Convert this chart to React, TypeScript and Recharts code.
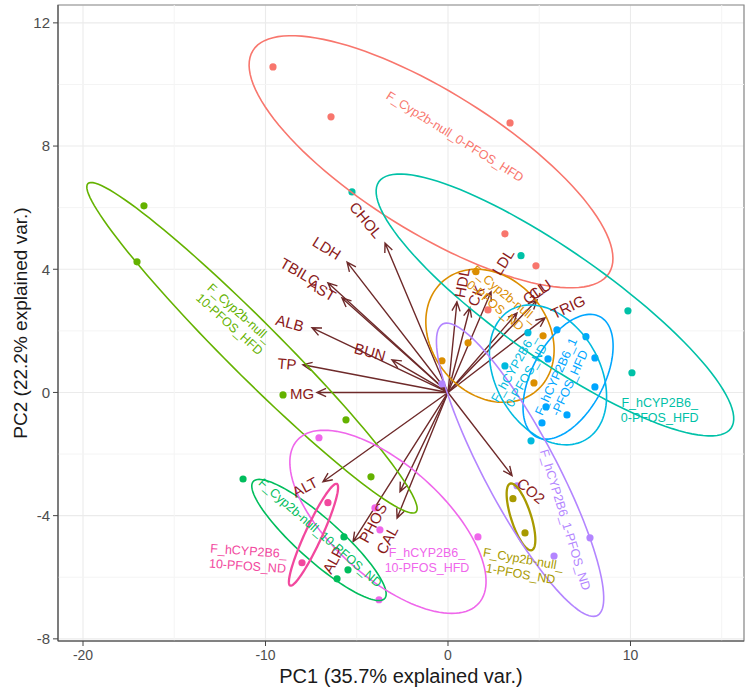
import React from 'react'
import {
  ScatterChart,
  Scatter,
  XAxis,
  YAxis,
  CartesianGrid,
  ReferenceLine,
  ReferenceArea,
} from 'recharts'

// groups (ggplot hue palette, 11 levels)
const groupNames = [
  'F_Cyp2b-null_0-PFOS_HFD',
  'F_Cyp2b-null_0-PFOS_ND',
  'F_Cyp2b-null_1-PFOS_ND',
  'F_Cyp2b-null_10-PFOS_HFD',
  'F_Cyp2b-null_10-PFOS_ND',
  'F_hCYP2B6_0-PFOS_HFD',
  'F_hCYP2B6_0-PFOS_ND',
  'F_hCYP2B6_1-PFOS_HFD',
  'F_hCYP2B6_1-PFOS_ND',
  'F_hCYP2B6_10-PFOS_HFD',
  'F_hCYP2B6_10-PFOS_ND',
]
const groupColors = [
  '#F8766D', '#DB8E00', '#A89A00', '#64B200', '#00BD5C', '#00C1A7',
  '#00BADE', '#00A6FF', '#B385FF', '#EF67EB', '#F2489E',
]

// sample scores
const pc1ByGroup = [
  [-9.59, -6.41, 3.4, 3.12, 4.82, 2.19],
  [1.53, -0.33, 1.1, 5.21, 4.71],
  [3.56, 4.22],
  [-16.66, -17.04, -9.04, -5.59, -4.22],
  [-11.23, -5.7, -6.08, -5.48],
  [-5.26, 4.0, 9.86, 10.08],
  [3.12, 4.55, 4.38],
  [5.97, 7.56, 5.48, 8.05, 8.05, 5.37, 6.52, 5.15],
  [3.78, 7.78, 5.81, -0.33],
  [-7.07, -4.0, -3.73, -3.78, 1.64],
  [-6.58, -8.0],
]
const pc2ByGroup = [
  [10.57, 8.95, 8.75, 5.15, 4.11, 2.68],
  [3.92, 1.03, 1.61, 1.84, 0.31],
  [-3.45, -4.56],
  [6.06, 4.24, -0.08, -0.89, -2.74],
  [-2.81, -4.69, -6.05, -5.76],
  [6.51, 4.44, 2.65, 0.64],
  [0.86, -1.57, 1.94],
  [2.03, 1.81, 1.09, 1.12, 0.18, -0.47, -0.73, -0.99],
  [-3.03, -4.72, -5.31, 0.28],
  [-1.47, -3.75, -4.46, -6.73, -4.69],
  [-3.58, -5.53],
]

// normal-data ellipses: centre and two conjugate semi-axes (PC units)
const ellipseCenter = [
  [-0.93, 7.49], [2.3, 1.84], [4.0, -4.04], [-10.74, 1.45], [-7.07, -4.79], [5.86, 2.84],
  [5.48, 0.57], [6.58, 0.51], [3.95, -2.51], [-3.29, -4.2], [-7.37, -4.62],
]
const ellipseAxisA = [
  [9.76, -3.61], [2.54, -1.79], [0.59, -1.08], [8.99, -5.33], [3.6, -1.9], [9.65, -4.0],
  [2.05, -2.11], [1.75, 1.95], [4.24, -4.73], [4.97, -2.65], [-1.28, -1.65],
]
const ellipseAxisB = [
  [-2.03, -1.93], [-2.43, -1.21], [-0.52, -0.1], [-1.05, -0.62], [-0.77, -0.51], [-1.7, -1.44],
  [-2.47, -0.84], [1.74, -0.55], [-1.74, -0.55], [-2.05, -1.35], [-0.42, 0.115],
]

// group labels
const groupLabelLines = [
  ['F_Cyp2b-null_0-PFOS_HFD'],
  ['F_Cyp2b-null_', '0-PFOS_ND'],
  ['F_Cyp2b-null_', '1-PFOS_ND'],
  ['F_Cyp2b-null_', '10-PFOS_HFD'],
  ['F_Cyp2b-null_10-PFOS_ND'],
  ['F_hCYP2B6_', '0-PFOS_HFD'],
  ['F_hCYP2B6_', '0-PFOS_ND'],
  ['F_hCYP2B6_1', '-PFOS_HFD'],
  ['F_hCYP2B6_1-PFOS_ND'],
  ['F_hCYP2B6_', '10-PFOS_HFD'],
  ['F_hCYP2B6_', '10-PFOS_ND'],
]
const groupLabelPC1 = [0.38, 2.85, 4.05, -11.7, -7.01, 11.6, 3.95, 6.3, 6.41, -1.15, -10.96]
const groupLabelPC2 = [8.3, 3.0, -5.66, 2.39, -4.56, -0.57, 0.67, 0.41, -4.14, -5.47, -5.4]

// variable loadings (arrows)
const variables = [
  'CHOL', 'LDH', 'TBILC', 'AST', 'ALB', 'BUN', 'TP', 'MG', 'ALT', 'ALP',
  'PHOS', 'CAL', 'CO2', 'HDL', 'CK', 'LDL', 'GLU', 'CL', 'TRIG',
]
const loadPC1 = [-3.45, -5.53, -6.58, -5.81, -7.45, -3.07, -7.95, -7.18, -6.85, -5.2, -2.63, -2.79, 3.51, 0.49, 1.2, 2.36, 3.78, 4.88, 5.32]
const loadPC2 = [4.85, 4.23, 3.56, 3.07, 2.1, 1.06, 0.9, 0.0, -2.9, -4.84, -3.22, -4.08, -2.7, 2.94, 2.75, 3.27, 2.58, 3.0, 2.42]
const labelPC1 = [-4.49, -6.63, -8.11, -6.9, -8.66, -4.27, -8.82, -8.0, -7.84, -6.3, -4.11, -3.34, 4.55, 0.77, 1.53, 3.01, 4.88, 4.95, 6.58]
const labelPC2 = [5.6, 4.69, 3.91, 3.33, 2.26, 1.32, 0.93, -0.05, -3.07, -5.44, -4.23, -4.79, -3.19, 3.56, 3.14, 4.24, 3.27, 3.3, 2.78]

// axes
const xDomain = [-21.37, 16.22]
const yDomain = [-8.07, 12.58]
const xTicks = [-20, -10, 0, 10]
const yTicks = [-8, -4, 0, 4, 8, 12]
const xMinor = [-15, -5, 5, 15]
const yMinor = [-6, -2, 2, 6, 10]

// text angles (degrees, svg)
const varAngle = [50, 32, 30, 30, 15, 15, 5, 0, -28, -62, -62, -62, 40, -80, -68, -58, -35, -35, -25]
const groupAngle = [32, 40, 10, 42, 41, 0, -60, -65, 73, 0, 4]

const ARROW = '#6e2a2a'
const VARTEXT = '#8b1a1a'
const FONT = '"Liberation Sans", Arial, Helvetica, sans-serif'

function ellipsePoints(i: number) {
  const [cx, cy] = ellipseCenter[i]
  const [ax, ay] = ellipseAxisA[i]
  const [bx, by] = ellipseAxisB[i]
  const pts = []
  for (let k = 0; k <= 120; k++) {
    const t = (k / 120) * Math.PI * 2
    pts.push({ x: cx + ax * Math.cos(t) + bx * Math.sin(t), y: cy + ay * Math.cos(t) + by * Math.sin(t) })
  }
  return pts
}

const noShape = () => <g />

const dot = (color: string) => (p: any) => (
  <circle cx={p.cx} cy={p.cy} r={3.6} fill={color} />
)

const closedPath = (color: string, width: number) => (lp: any) => {
  const d = 'M' + lp.points.map((p: any) => `${p.x},${p.y}`).join('L') + 'Z'
  return <path d={d} fill="none" stroke={color} strokeWidth={width} />
}

const arrowPath = (lp: any) => {
  const [a, b] = lp.points
  const ang = Math.atan2(b.y - a.y, b.x - a.x)
  const h = 10
  const s = 0.42
  const p1 = `${b.x - h * Math.cos(ang - s)},${b.y - h * Math.sin(ang - s)}`
  const p2 = `${b.x - h * Math.cos(ang + s)},${b.y - h * Math.sin(ang + s)}`
  return (
    <path
      d={`M${a.x},${a.y}L${b.x},${b.y}M${p1}L${b.x},${b.y}L${p2}`}
      fill="none"
      stroke={ARROW}
      strokeWidth={1.4}
    />
  )
}

const varText = (p: any) => (
  <text
    x={p.cx}
    y={p.cy}
    transform={`rotate(${p.payload.angle} ${p.cx} ${p.cy})`}
    textAnchor="middle"
    dominantBaseline="central"
    fontSize={15}
    fontFamily={FONT}
    fill={VARTEXT}
  >
    {p.payload.name}
  </text>
)

const groupText = (color: string) => (p: any) => {
  const lines: string[] = p.payload.lines
  const lh = 15
  const top = -((lines.length - 1) * lh) / 2
  return (
    <text
      x={p.cx}
      y={p.cy}
      transform={`rotate(${p.payload.angle} ${p.cx} ${p.cy})`}
      textAnchor="middle"
      dominantBaseline="central"
      fontSize={12.5}
      fontFamily={FONT}
      fill={color}
    >
      {lines.map((l, k) => (
        <tspan key={k} x={p.cx} y={p.cy + top + k * lh}>
          {l}
        </tspan>
      ))}
    </text>
  )
}

export default function App() {
  return (
    <div style={{ width: 750, height: 692, background: '#fff' }}>
      <style>{'body{margin:0}'}</style>
      <ScatterChart
        width={750}
        height={692}
        margin={{ top: 5, right: 6, bottom: 0, left: 0 }}
        style={{ fontFamily: FONT }}
      >
        <CartesianGrid stroke="#EBEBEB" strokeWidth={1.1} />
        {xMinor.map((v) => (
          <ReferenceLine key={'xm' + v} x={v} stroke="#F4F4F4" />
        ))}
        {yMinor.map((v) => (
          <ReferenceLine key={'ym' + v} y={v} stroke="#F4F4F4" />
        ))}
        <ReferenceArea
          x1={xDomain[0]}
          x2={xDomain[1]}
          y1={yDomain[0]}
          y2={yDomain[1]}
          fill="none"
          stroke="#8a8a8a"
          strokeWidth={1.2}
        />
        <XAxis
          type="number"
          dataKey="x"
          domain={xDomain}
          ticks={xTicks}
          allowDataOverflow
          height={51}
          tickSize={5}
          tickMargin={4}
          axisLine={{ stroke: '#444' }}
          tickLine={{ stroke: '#444' }}
          tick={{ fill: '#4d4d4d', fontSize: 14 }}
          label={{
            value: 'PC1 (35.7% explained var.)',
            position: 'insideBottom',
            offset: 9,
            style: { fontSize: 20, fill: '#1a1a1a' },
          }}
        />
        <YAxis
          type="number"
          dataKey="y"
          domain={yDomain}
          ticks={yTicks}
          allowDataOverflow
          width={58}
          tickSize={5}
          tickMargin={3}
          axisLine={{ stroke: '#444' }}
          tickLine={{ stroke: '#444' }}
          tick={{ fill: '#4d4d4d', fontSize: 15 }}
          label={{
            value: 'PC2 (22.2% explained var.)',
            angle: -90,
            position: 'insideLeft',
            offset: 20,
            style: { fontSize: 19, fill: '#1a1a1a', textAnchor: 'middle' },
          }}
        />

        {variables.map((v, i) => (
          <Scatter
            key={'arr' + v}
            data={[{ x: 0, y: 0 }, { x: loadPC1[i], y: loadPC2[i] }]}
            shape={noShape}
            line={arrowPath}
            isAnimationActive={false}
          />
        ))}

        {groupNames.map((g, i) => (
          <Scatter
            key={'pts' + g}
            name={g}
            data={pc1ByGroup[i].map((x, k) => ({ x, y: pc2ByGroup[i][k] }))}
            shape={dot(groupColors[i])}
            isAnimationActive={false}
          />
        ))}

        {groupNames.map((g, i) => (
          <Scatter
            key={'ell' + g}
            data={ellipsePoints(i)}
            shape={noShape}
            line={closedPath(groupColors[i], i === 2 || i === 10 ? 2.3 : 1.6)}
            isAnimationActive={false}
          />
        ))}

        <Scatter
          data={variables.map((name, i) => ({ x: labelPC1[i], y: labelPC2[i], name, angle: varAngle[i] }))}
          shape={varText}
          isAnimationActive={false}
        />

        {groupNames.map((g, i) => (
          <Scatter
            key={'lab' + g}
            data={[{ x: groupLabelPC1[i], y: groupLabelPC2[i], lines: groupLabelLines[i], angle: groupAngle[i] }]}
            shape={groupText(groupColors[i])}
            isAnimationActive={false}
          />
        ))}
      </ScatterChart>
    </div>
  )
}
